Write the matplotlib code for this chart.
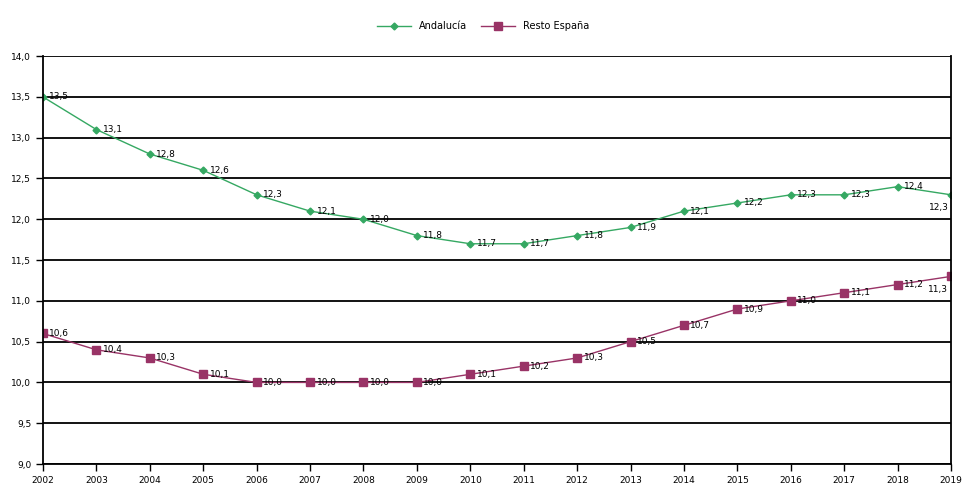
import matplotlib.pyplot as plt

years = list(range(2002, 2020))
andalucia = [13.5, 13.1, 12.8, 12.6, 12.3, 12.1, 12.0, 11.8, 11.7, 11.7,
             11.8, 11.9, 12.1, 12.2, 12.3, 12.3, 12.4, 12.3]
resto = [10.6, 10.4, 10.3, 10.1, 10.0, 10.0, 10.0, 10.0, 10.1, 10.2,
         10.3, 10.5, 10.7, 10.9, 11.0, 11.1, 11.2, 11.3]

green = "#35a862"
maroon = "#993366"

fig = plt.figure(figsize=(9.66, 4.95), dpi=100)
ax = fig.add_axes([0.0445, 0.0626, 0.940, 0.824])

ax.plot(years, andalucia, color=green, lw=1, marker='D', ms=3.5, label="Andalucía")
ax.plot(years, resto, color=maroon, lw=1, marker='s', ms=6, label="Resto España")

def fmt(v):
    return f"{v:.1f}".replace(".", ",")

for i, (x, a, r) in enumerate(zip(years, andalucia, resto)):
    if i == len(years) - 1:
        ax.text(x - 0.05, a - 0.1, fmt(a), fontsize=6.5, ha='right', va='top')
        ax.text(x - 0.05, r - 0.1, fmt(r), fontsize=6.5, ha='right', va='top')
    else:
        ax.text(x + 0.12, a, fmt(a), fontsize=6.5, ha='left', va='center')
        ax.text(x + 0.12, r, fmt(r), fontsize=6.5, ha='left', va='center')

ax.set_xlim(2002, 2019)
ax.set_ylim(9.0, 14.0)
ax.set_xticks(years)
ax.set_xticklabels([str(y) for y in years], fontsize=6.5)
yt = [9.0 + 0.5 * i for i in range(11)]
ax.set_yticks(yt)
ax.set_yticklabels([fmt(v) for v in yt], fontsize=6.5)
ax.yaxis.grid(True, color='black', lw=1.3)
ax.set_axisbelow(True)
ax.spines['top'].set_visible(False)
for s in ['left', 'right', 'bottom']:
    ax.spines[s].set_linewidth(1.3)
ax.tick_params(length=5, width=1)

fig.legend(loc='upper center', bbox_to_anchor=(0.5, 0.975), ncol=2, frameon=False,
           fontsize=7, handlelength=3.5, columnspacing=1.5)

fig.savefig("out.png")
